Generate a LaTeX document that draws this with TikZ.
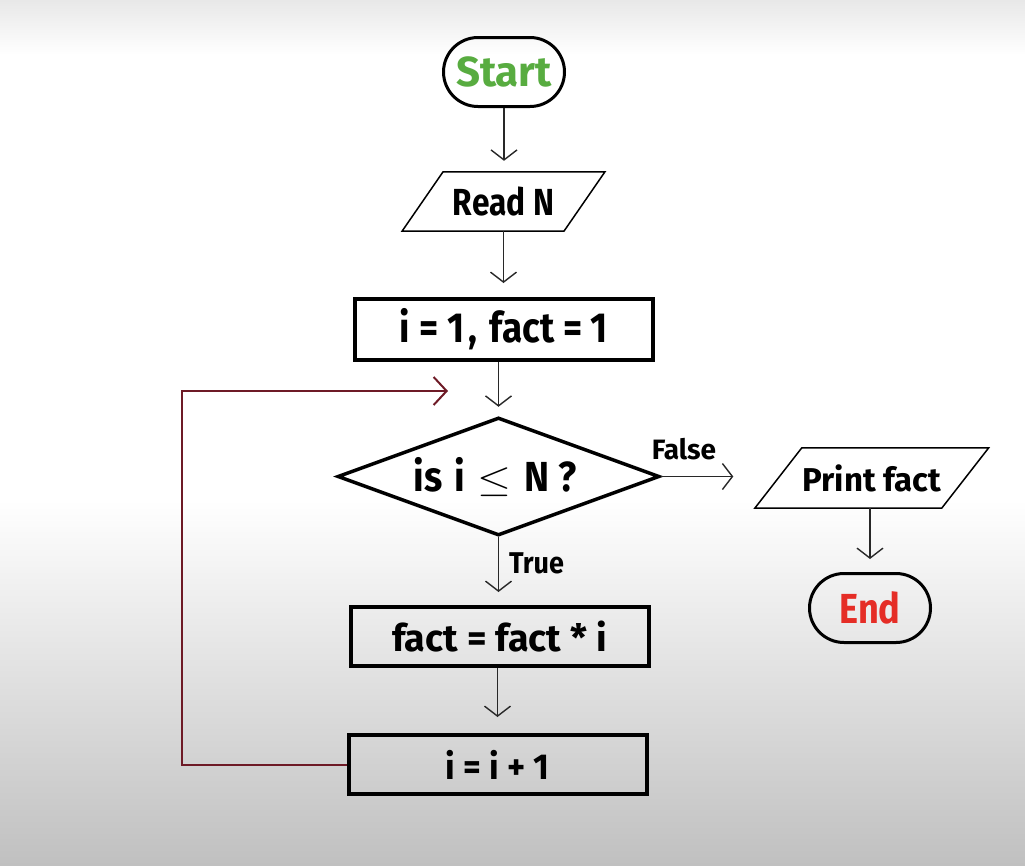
\documentclass[tikz,border=0pt]{standalone}
\usepackage{fontspec}
\setmainfont{Fira Sans}
\usetikzlibrary{arrows.meta,shapes.misc,shapes.geometric,calc}
\definecolor{startgreen}{RGB}{88,172,64}
\definecolor{endred}{RGB}{229,45,38}
\definecolor{loopred}{RGB}{110,26,38}
\definecolor{linegray}{RGB}{40,40,40}
\definecolor{topgray}{RGB}{232,232,232}
\definecolor{botgray}{RGB}{192,192,192}
\tikzset{
  txt/.style={font=\bfseries\fontsize{#1pt}{#1pt}\selectfont, text=black},
  terminal/.style={rounded rectangle, draw=black, line width=3pt, minimum width=121pt, minimum height=69pt, inner sep=0pt},
  procbox/.style={rectangle, draw=black, line width=4pt, minimum width=298pt, minimum height=60pt, inner sep=0pt},
  iobox/.style={rectangle, draw=none, inner sep=0pt},
  decbox/.style={diamond, draw=black, line width=3.5pt, minimum width=322pt, minimum height=118pt, inner sep=0pt},
  flow/.style={draw=linegray, line width=1.4pt, -{Straight Barb[length=10pt,width=26pt,line width=1.4pt]}},
  loopflow/.style={draw=loopred, line width=2pt, -{Straight Barb[length=13pt,width=28pt,line width=2pt]}},
  iopath/.style={draw=black, line width=1.5pt, line join=miter},
}
\begin{document}
\begin{tikzpicture}[x=1pt,y=-1pt]
\useasboundingbox (0,0) rectangle (1025,865);
\fill[white] (0,0) rectangle (1025,865);
\shade[top color=topgray, bottom color=white] (0,0) rectangle (1025,55);
\shade[top color=white, bottom color=botgray] (0,500) rectangle (1025,865);

% nodes
\node[terminal, txt=42] (start) at (504,72) {\textcolor{startgreen}{Start}};
\node[iobox, minimum width=161.5pt, minimum height=59pt, txt=37.7] (readn) at (503.5,201.5) {\scalebox{0.84}[1]{Read N}};
\draw[iopath] ([xshift=20.5pt]readn.north west) -- ([xshift=20.5pt]readn.north east)
  -- ([xshift=-20.5pt]readn.south east) -- ([xshift=-20.5pt]readn.south west) -- cycle;
\node[procbox, minimum height=61pt, txt=42] (init) at (504,329.5) {\scalebox{0.88}[1]{i = 1\hspace{5pt},\hspace{14pt}fact = 1}};
\node[decbox] (dec) at (498.5,476.5) {};
\node[txt=42, inner sep=0pt] (dectext) at (495,477) {\scalebox{0.9}[1]{is\hspace{13pt}i\hspace{14pt}\scalebox{1.95}[1.5]{$\leq$}\hspace{14pt}N ?}};
\node[procbox, minimum height=59pt, txt=37.7] (body) at (499.5,636.5) {fact = fact * i};
\node[procbox, minimum height=59pt, txt=36] (incr) at (497.5,764.5) {\scalebox{0.95}[1]{i = i + 1}};
\node[iobox, minimum width=186.5pt, minimum height=60pt, txt=33] (print) at (871.75,478) {Print fact};
\draw[iopath] ([xshift=23.5pt]print.north west) -- ([xshift=23.5pt]print.north east)
  -- ([xshift=-23.5pt]print.south east) -- ([xshift=-23.5pt]print.south west) -- cycle;
\node[terminal, txt=42] (end) at (870,608) {\textcolor{endred}{\scalebox{0.86}[1]{End}}};

% labels
\node[txt=28] (flbl) at (684,449) {False};
\node[txt=30] (tlbl) at (536.5,563) {\scalebox{0.9}[1]{True}};

% connectors
\draw[flow, shorten >=11pt] (start.south) -- (start.south |- readn.north);
\draw[flow, shorten >=14pt] (readn.south) -- (readn.south |- init.north);
\draw[flow, shorten >=9pt] (init.south -| dec.north) -- (dec.north);
\draw[flow, shorten >=13pt] (dec.south) -- (dec.south |- body.north);
\draw[flow, shorten >=16pt] (body.south -| incr.north) -- (incr.north);
\draw[flow, shorten >=45pt] (dec.east) -- (dec.east -| print.west);
\draw[flow, shorten >=13pt] (print.south -| end.north) -- (end.north);
\coordinate (loopin) at (448,391);
\draw[loopflow] (incr.west) -- ++(-165,0) |- (loopin);
\end{tikzpicture}
\end{document}
